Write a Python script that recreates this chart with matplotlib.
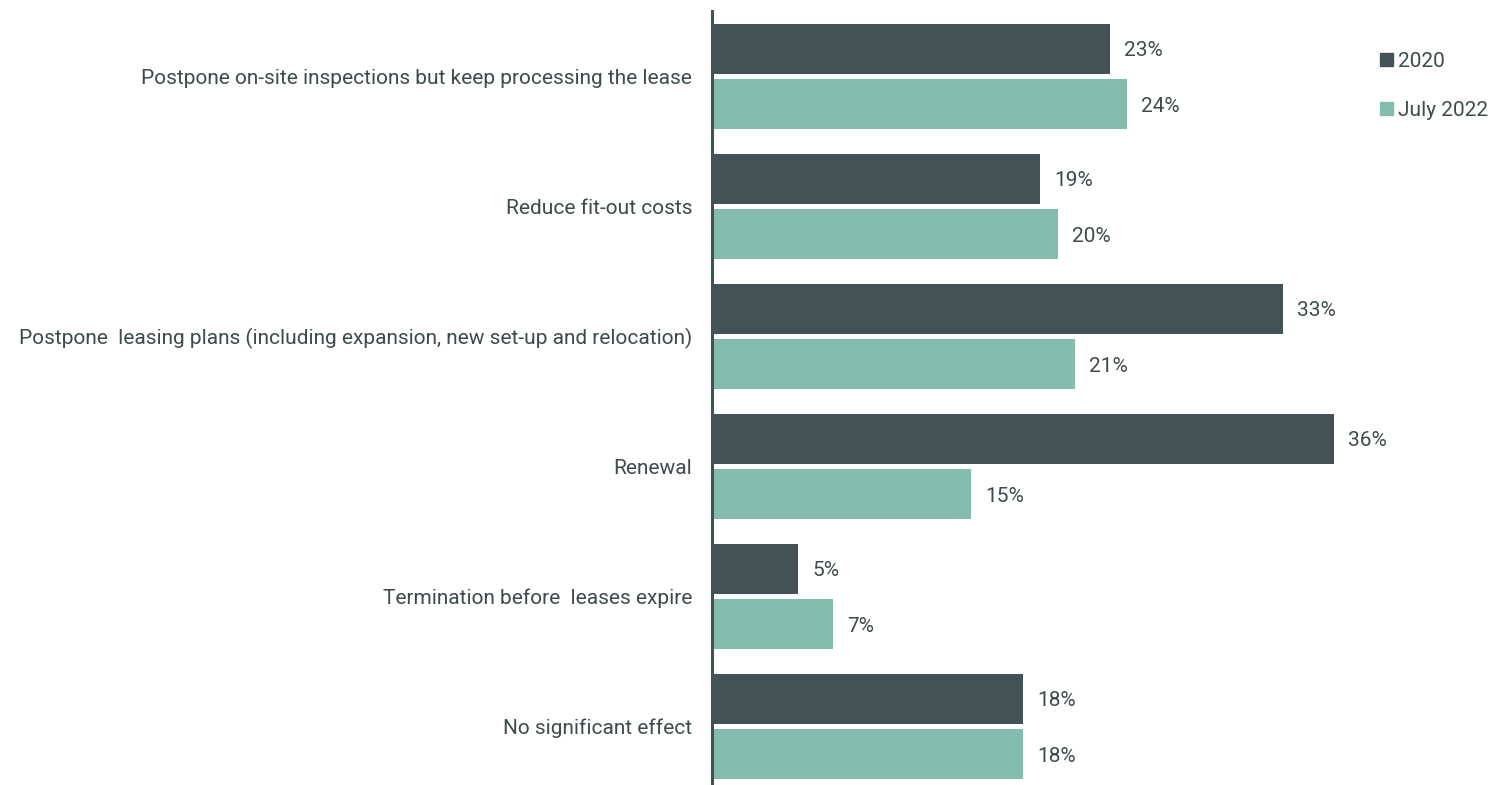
import matplotlib
matplotlib.use("Agg")
import matplotlib.pyplot as plt
from matplotlib.patches import Patch
import numpy as np

categories = [
    "Postpone on-site inspections but keep processing the lease",
    "Reduce fit-out costs",
    "Postpone  leasing plans (including expansion, new set-up and relocation)",
    "Renewal",
    "Termination before  leases expire",
    "No significant effect",
]
series_names = ["2020", "July 2022"]
values_2020 = [23, 19, 33, 36, 5, 18]
values_2022 = [24, 20, 21, 15, 7, 18]

DARK = "#435256"
LIGHT = "#84bcad"
TEXT = "#3f4a4d"
FS = 15

plt.rcParams["font.family"] = ["Roboto", "DejaVu Sans"]

fig = plt.figure(figsize=(14.93, 7.85), dpi=100)
ax = fig.add_axes([712 / 1493, 0, 778 / 1493, 774 / 785])

y = np.arange(len(categories))
h = 50 / 130
off = 27.5 / 130
bars1 = ax.barh(y - off, values_2020, height=h, color=DARK)
bars2 = ax.barh(y + off, values_2022, height=h, color=LIGHT)

# value labels just past the bar ends
for bars, vals in [(bars1, values_2020), (bars2, values_2022)]:
    for b, v in zip(bars, vals):
        ax.annotate(f"{v}%", (v, b.get_y() + b.get_height() / 2),
                    xytext=(14, -2), textcoords="offset pixels",
                    va="center", ha="left", fontsize=FS, color=TEXT)

# category names, right-aligned left of the axis line
for yi, cat in zip(y, categories):
    ax.annotate(cat, (0, yi), xytext=(-20, -2), textcoords="offset pixels",
                va="center", ha="right", fontsize=FS, color=TEXT,
                annotation_clip=False)

ax.set_xlim(0, 45)
ax.set_ylim(5 + 58.5 / 130, -65.5 / 130)
for s in ["top", "right", "bottom"]:
    ax.spines[s].set_visible(False)
ax.spines["left"].set_color(DARK)
ax.spines["left"].set_linewidth(2.2)
ax.set_xticks([])
ax.set_yticks([])

handles = [Patch(color=DARK), Patch(color=LIGHT)]
leg = fig.legend(handles, series_names, loc="upper left",
                 bbox_to_anchor=(1380 / 1493, 1 - 52 / 785), frameon=False,
                 fontsize=FS, handlelength=0.6, handleheight=0.6,
                 handletextpad=0.25, labelspacing=1.45, borderpad=0,
                 borderaxespad=0)
for t in leg.get_texts():
    t.set_color(TEXT)

fig.savefig("out.png", dpi=100)
